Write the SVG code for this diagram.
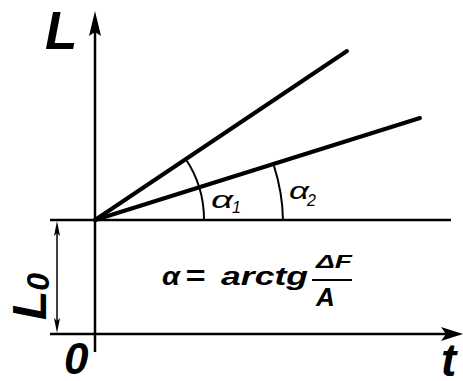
<svg xmlns="http://www.w3.org/2000/svg" width="463" height="381" viewBox="0 0 463 381">
<style>
.t{font-family:"Liberation Sans",Arial,sans-serif;font-weight:bold;font-style:italic;fill:#000}
.a{font-family:"Liberation Sans",Arial,sans-serif;font-style:italic;fill:#000}
.ax{stroke:#000;stroke-width:2.5;fill:none}
.ln{stroke:#000;stroke-width:4;fill:none;stroke-linecap:round}
.arc{stroke:#000;stroke-width:2;fill:none}
.dim{stroke:#000;stroke-width:1.5;fill:none}
</style>
<rect width="463" height="381" fill="#fff"/>
<g id="connectors">
  <line class="ax" x1="95" y1="30" x2="95" y2="352"/>
  <path d="M95,11 L101,36 L95,32 L89,36 Z" fill="#000"/>
  <line class="ax" x1="50" y1="220" x2="451" y2="220"/>
  <line class="ax" x1="50" y1="334" x2="448" y2="334"/>
  <path d="M463,334 L441,341 L446,334 L441,327 Z" fill="#000"/>
  <line class="ln" x1="95" y1="220" x2="347" y2="51"/>
  <line class="ln" x1="95" y1="220" x2="420" y2="118"/>
  <path class="arc" d="M185,158 A109,109 0 0 1 204,220"/>
  <path class="arc" d="M274,166 A188,188 0 0 1 283,220"/>
  <line class="dim" x1="57" y1="230" x2="57" y2="325"/>
  <path d="M57,221 L60,236 L57,233 L54,236 Z" fill="#000"/>
  <path d="M57,333 L60,318 L57,321 L54,318 Z" fill="#000"/>
  <line x1="312" y1="280" x2="352" y2="280" stroke="#000" stroke-width="2"/>
</g>
<g id="label-L"><text class="t" x="45" y="49" font-size="53">L</text></g>
<g id="label-t"><text class="t" x="441" y="376" font-size="46">t</text></g>
<g id="label-0"><text class="t" x="64" y="374" font-size="44">0</text></g>
<g id="label-L0"><text class="t" transform="translate(46,320) rotate(-90)" font-size="48">L<tspan font-size="32" dy="3">0</tspan></text></g>
<g id="label-a1"><text class="a" x="211" y="208" font-size="24" textLength="22" lengthAdjust="spacingAndGlyphs">α</text><text class="a" x="232" y="213" font-size="16">1</text></g>
<g id="label-a2"><text class="a" x="289" y="199" font-size="24" textLength="20" lengthAdjust="spacingAndGlyphs">α</text><text class="a" x="307" y="206" font-size="16">2</text></g>
<g id="formula">
  <text class="t" x="162" y="285" font-size="26" textLength="18" lengthAdjust="spacingAndGlyphs">α</text>
  <text class="t" x="185" y="285" font-size="28" textLength="20" lengthAdjust="spacingAndGlyphs" font-style="normal">=</text>
  <text class="t" x="221" y="285" font-size="26" textLength="87" lengthAdjust="spacingAndGlyphs">arctg</text>
  <text class="t" x="316" y="268" font-size="18" textLength="36" lengthAdjust="spacingAndGlyphs">ΔF</text>
  <text class="t" x="316" y="306" font-size="26">A</text>
</g>
</svg>
